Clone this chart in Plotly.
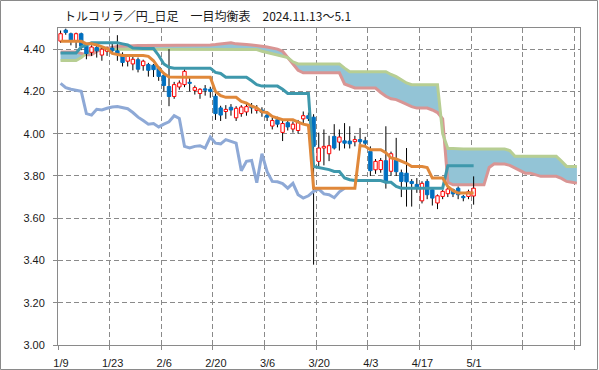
import plotly.graph_objects as go

# ---- data ----
tick_labels = ["1/9", "1/23", "2/6", "2/20", "3/6", "3/20", "4/3", "4/17", "5/1", "", ""]

opens = [4.438, 4.490, 4.473, 4.440, 4.473, 4.414, 4.385, 4.408, 4.372, 4.390,
         4.405, 4.392, 4.375, 4.343, 4.330, 4.350, 4.322, 4.327, 4.324, 4.314,
         4.276, 4.223, 4.176, 4.221, 4.232, 4.243, 4.205, 4.190, 4.212, 4.210,
         4.177, 4.122, 4.105, 4.125, 4.075, 4.095, 4.103, 4.132, 4.110, 4.112,
         4.088, 4.036, 4.066, 4.006, 4.052, 4.022, 4.015, 4.070, 4.085, 4.078,
         3.869, 3.932, 3.905, 3.987, 3.960, 3.966, 3.965, 3.962, 3.972, 3.966,
         3.916, 3.829, 3.830, 3.872, 3.822, 3.877, 3.815, 3.813, 3.774, 3.760,
         3.682, 3.774, 3.735, 3.672, 3.703, 3.716, 3.735, 3.742, 3.703, 3.703,
         3.705]
highs = [4.488, 4.497, 4.478, 4.478, 4.478, 4.420, 4.418, 4.420, 4.408, 4.412,
         4.430, 4.466, 4.385, 4.375, 4.365, 4.360, 4.350, 4.335, 4.330, 4.320,
         4.282, 4.400, 4.245, 4.252, 4.305, 4.270, 4.228, 4.215, 4.230, 4.222,
         4.190, 4.132, 4.135, 4.140, 4.130, 4.135, 4.150, 4.145, 4.135, 4.125,
         4.100, 4.075, 4.080, 4.060, 4.065, 4.058, 4.065, 4.105, 4.100, 4.092,
         4.005, 4.020, 3.990, 4.045, 4.020, 4.050, 4.035, 3.990, 4.027, 3.985,
         3.940, 3.880, 3.885, 4.035, 3.915, 3.980, 3.830, 3.932, 3.785, 3.790,
         3.775, 3.785, 3.740, 3.712, 3.735, 3.745, 3.740, 3.750, 3.710, 3.735,
         3.798]
lows = [4.430, 4.468, 4.418, 4.405, 4.395, 4.352, 4.368, 4.360, 4.345, 4.368,
        4.378, 4.345, 4.318, 4.318, 4.300, 4.290, 4.298, 4.270, 4.268, 4.250,
        4.200, 4.130, 4.165, 4.208, 4.220, 4.200, 4.185, 4.165, 4.180, 4.170,
        4.065, 4.060, 4.070, 4.085, 4.060, 4.080, 4.085, 4.095, 4.095, 4.080,
        4.060, 4.020, 4.030, 3.965, 4.015, 4.005, 4.000, 4.050, 4.060, 3.380,
        3.840, 3.850, 3.870, 3.925, 3.920, 3.930, 3.930, 3.940, 3.950, 3.940,
        3.800, 3.810, 3.815, 3.740, 3.800, 3.800, 3.700, 3.655, 3.655, 3.720,
        3.670, 3.690, 3.660, 3.643, 3.690, 3.700, 3.700, 3.690, 3.680, 3.690,
        3.664]
closes = [4.473, 4.479, 4.440, 4.473, 4.414, 4.379, 4.410, 4.392, 4.400, 4.405,
          4.392, 4.375, 4.337, 4.366, 4.352, 4.305, 4.343, 4.300, 4.303, 4.271,
          4.228, 4.176, 4.232, 4.240, 4.295, 4.238, 4.218, 4.210, 4.206, 4.200,
          4.095, 4.088, 4.115, 4.112, 4.120, 4.126, 4.128, 4.122, 4.118, 4.100,
          4.078, 4.062, 4.045, 4.048, 4.032, 4.045, 4.056, 4.085, 4.072, 3.940,
          3.932, 3.940, 3.943, 3.932, 3.984, 3.955, 3.952, 3.972, 3.962, 3.955,
          3.825, 3.869, 3.873, 3.768, 3.905, 3.820, 3.774, 3.772, 3.764, 3.742,
          3.765, 3.711, 3.695, 3.706, 3.727, 3.738, 3.715, 3.711, 3.697, 3.725,
          3.742]

tenkan = [4.437, 4.437, 4.437, 4.437, 4.437, 4.425, 4.425, 4.420, 4.410, 4.403,
          4.380, 4.375, 4.370, 4.370, 4.370, 4.370, 4.370, 4.366, 4.345, 4.310,
          4.285, 4.268, 4.267, 4.267, 4.267, 4.267, 4.267, 4.267, 4.267, 4.267,
          4.200, 4.180, 4.172, 4.172, 4.172, 4.153, 4.145, 4.130, 4.122, 4.103,
          4.100, 4.082, 4.075, 4.066, 4.066, 4.066, 4.055, 4.045, 4.040, 3.742,
          3.742, 3.742, 3.742, 3.742, 3.742, 3.742, 3.742, 3.742, 3.944, 3.940,
          3.924, 3.924, 3.924, 3.910, 3.885, 3.880, 3.870, 3.860, 3.845, 3.845,
          3.845, 3.840, 3.790, 3.790, 3.790, 3.750, 3.730, 3.719, 3.719, 3.719,
          3.719]
kijun = [4.382, 4.382, 4.382, 4.382, 4.410, 4.420, 4.430, 4.430, 4.430, 4.430,
         4.430, 4.430, 4.425, 4.420, 4.405, 4.403, 4.403, 4.403, 4.403, 4.370,
         4.330, 4.314, 4.310, 4.310, 4.310, 4.310, 4.310, 4.310, 4.310, 4.310,
         4.290, 4.285, 4.267, 4.267, 4.267, 4.267, 4.267, 4.250, 4.232, 4.225,
         4.225, 4.225, 4.225, 4.210, 4.190, 4.190, 4.190, 4.190, 4.190, 3.845,
         3.840, 3.835, 3.830, 3.821, 3.821, 3.790, 3.782, 3.778, 3.778, 3.778,
         3.778, 3.778, 3.778, 3.770, 3.770, 3.750, 3.742, 3.742, 3.742, 3.742,
         3.742, 3.742, 3.742, 3.742, 3.742, 3.848, 3.848, 3.848, 3.848, 3.848,
         3.848]
span_a = [4.346, 4.346, 4.346, 4.346, 4.360, 4.380, 4.395, 4.400, 4.400, 4.400,
          4.400, 4.400, 4.400, 4.400, 4.400, 4.400, 4.400, 4.400, 4.400, 4.400,
          4.400, 4.400, 4.400, 4.400, 4.400, 4.400, 4.400, 4.400, 4.400, 4.400,
          4.400, 4.400, 4.400, 4.400, 4.400, 4.400, 4.400, 4.400, 4.398, 4.390,
          4.385, 4.380, 4.372, 4.366, 4.360, 4.340, 4.330, 4.330, 4.330, 4.330,
          4.330, 4.330, 4.330, 4.330, 4.330, 4.310, 4.293, 4.293, 4.293, 4.293,
          4.293, 4.293, 4.293, 4.293, 4.280, 4.270, 4.255, 4.240, 4.232, 4.232,
          4.232, 4.232, 4.232, 4.232, 4.000, 3.930, 3.930, 3.927, 3.927, 3.927,
          3.927, 3.927, 3.927, 3.927, 3.927, 3.927, 3.927, 3.920, 3.893, 3.893,
          3.893, 3.893, 3.893, 3.893, 3.893, 3.893, 3.893, 3.870, 3.845, 3.845,
          3.845]
span_b = [4.386, 4.386, 4.386, 4.386, 4.380, 4.374, 4.374, 4.390, 4.400, 4.405,
          4.410, 4.412, 4.414, 4.416, 4.417, 4.417, 4.417, 4.417, 4.417, 4.417,
          4.417, 4.417, 4.417, 4.417, 4.417, 4.417, 4.417, 4.417, 4.417, 4.420,
          4.422, 4.425, 4.430, 4.430, 4.425, 4.422, 4.422, 4.420, 4.418, 4.414,
          4.410, 4.405, 4.400, 4.390, 4.360, 4.330, 4.300, 4.288, 4.288, 4.288,
          4.288, 4.288, 4.288, 4.288, 4.288, 4.235, 4.225, 4.216, 4.216, 4.216,
          4.216, 4.216, 4.195, 4.177, 4.165, 4.161, 4.150, 4.137, 4.128, 4.121,
          4.121, 4.121, 4.112, 4.100, 4.070, 3.770, 3.758, 3.758, 3.758, 3.758,
          3.758, 3.758, 3.758, 3.840, 3.858, 3.856, 3.856, 3.850, 3.837, 3.825,
          3.813, 3.813, 3.805, 3.798, 3.798, 3.798, 3.798, 3.788, 3.774, 3.770,
          3.766]
CHIKOU_LAG = 25

# ---- figure ----
n = len(closes)
xc = list(range(n))
xk = list(range(len(span_a)))
hw = 0.33  # half body width in category units

fig = go.Figure()

# cloud
fig.add_trace(go.Scatter(x=xk, y=span_b, mode="lines",
                         line=dict(color="#D99594", width=3), hoverinfo="skip"))
fig.add_trace(go.Scatter(x=xk, y=span_a, mode="lines",
                         line=dict(color="#B7CE93", width=3),
                         fill="tonexty", fillcolor="#93C4D6", hoverinfo="skip"))

# wicks
wx, wy = [], []
for i in range(n):
    wx += [xc[i], xc[i], None]
    wy += [lows[i], highs[i], None]
fig.add_trace(go.Scatter(x=wx, y=wy, mode="lines",
                         line=dict(color="#000000", width=1), hoverinfo="skip"))

# bodies
ux, uy, dx, dy = [], [], [], []
for i in range(n):
    o, c = opens[i], closes[i]
    rx = [xc[i] - hw, xc[i] + hw, xc[i] + hw, xc[i] - hw, xc[i] - hw, None]
    ry = [o, o, c, c, o, None]
    if c >= o:
        ux += rx
        uy += ry
    else:
        dx += rx
        dy += ry
fig.add_trace(go.Scatter(x=dx, y=dy, mode="lines", fill="toself",
                         fillcolor="#0070C0", line=dict(color="#0070C0", width=1),
                         hoverinfo="skip"))
fig.add_trace(go.Scatter(x=ux, y=uy, mode="lines", fill="toself",
                         fillcolor="#FFFFFF", line=dict(color="#FF0000", width=1),
                         hoverinfo="skip"))

# chikou span
fig.add_trace(go.Scatter(x=xc[:n - CHIKOU_LAG], y=closes[CHIKOU_LAG:], mode="lines",
                         line=dict(color="#8EA9D6", width=3), hoverinfo="skip"))
# kijun
fig.add_trace(go.Scatter(x=xc, y=kijun, mode="lines",
                         line=dict(color="#3E98AC", width=3), hoverinfo="skip"))
# tenkan
fig.add_trace(go.Scatter(x=xc, y=tenkan, mode="lines",
                         line=dict(color="#E0883A", width=3), hoverinfo="skip"))

L, R, T, B = 58, 19, 28, 25
W, H = 599, 370
pw, ph = W - L - R, H - T - B

grid = "#8A8A8A"
fig.update_layout(
    width=W, height=H,
    margin=dict(l=L, r=R, t=T, b=B, pad=0, autoexpand=False),
    paper_bgcolor="white", plot_bgcolor="white",
    showlegend=False,
    font=dict(family="Liberation Sans, Arial, sans-serif", size=11, color="#1a1a1a"),
    xaxis=dict(
        range=[-0.5, 100.6],
        automargin=False,
        tickmode="array",
        tickvals=[-0.5 + 10 * k for k in range(len(tick_labels))],
        ticktext=tick_labels,
        ticklabelshift=3,
        ticklabelstandoff=4,
        showgrid=True, gridcolor=grid, griddash="5px,3px", gridwidth=1,
        ticks="outside", ticklen=4, tickcolor=grid,
        showline=True, linecolor=grid, linewidth=1, mirror=True,
        zeroline=False, fixedrange=True,
    ),
    yaxis=dict(
        range=[3.0, 4.5],
        automargin=False,
        tickmode="array",
        tickvals=[3.0, 3.2, 3.4, 3.6, 3.8, 4.0, 4.2, 4.4],
        ticktext=["3.00", "3.20", "3.40", "3.60", "3.80", "4.00", "4.20", "4.40"],
        showgrid=True, gridcolor=grid, griddash="5px,3px", gridwidth=1,
        ticks="outside", ticklen=4, tickcolor=grid,
        ticklabelstandoff=6,
        showline=True, linecolor=grid, linewidth=1, mirror=True,
        zeroline=False, fixedrange=True,
    ),
)

# outer frame
fig.add_shape(type="rect", xref="paper", yref="paper",
              x0=(0.5 - L) / pw, x1=(W - 1.5 - L) / pw,
              y0=(T + ph - (H - 0.5)) / ph, y1=(T + ph - 0.5) / ph,
              line=dict(color="#8A8A8A", width=1), fillcolor="rgba(0,0,0,0)",
              layer="above")

# title
fig.add_annotation(
    text="トルコリラ／円_日足　一目均衡表　2024.11.13～5.1",
    xref="paper", yref="paper",
    x=(62 - L) / pw, y=(T + ph - 15) / ph,
    xanchor="left", yanchor="middle", showarrow=False,
    font=dict(family="Noto Sans CJK JP", size=12, color="#1a1a1a"),
)

fig.write_html("out.html",
               config={"displayModeBar": False, "staticPlot": True},
               post_script="document.body.style.margin='0px';document.body.style.overflow='hidden';")
